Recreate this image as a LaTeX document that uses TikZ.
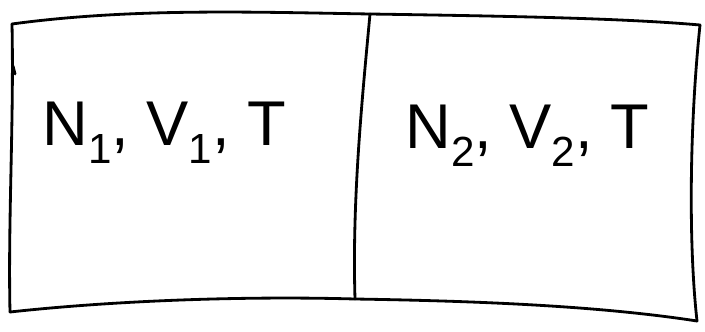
\documentclass[tikz,border=0pt]{standalone}
\usepackage{fontspec}
\setmainfont{Liberation Sans}
\newcommand{\mysub}[1]{\raisebox{-0.3em}{\fontsize{24}{24}\selectfont #1}}
\begin{document}
\begin{tikzpicture}[x=0.02cm,y=-0.02cm,
  hand/.style={line width=1.6pt,line cap=round,line join=round,black},
  label/.style={anchor=base west,inner sep=0pt,font=\fontsize{36}{36}\selectfont}]
\useasboundingbox (0,0) rectangle (705,331);
\coordinate (tl) at (12,24);
\coordinate (tm) at (370,14);
\coordinate (tr) at (700,25);
\coordinate (bl) at (10,312);
\coordinate (bm) at (355,299);
\coordinate (br) at (697,321);
% top edge
\draw[hand] (tl) .. controls (130,8) and (250,12) .. (tm) .. controls (500,16) and (620,18) .. (tr);
% bottom edge
\draw[hand] (bl) .. controls (120,300) and (250,296) .. (bm) .. controls (480,301) and (600,306) .. (br);
% left edge
\draw[hand] (tl) .. controls (14,120) and (8,220) .. (bl);
\draw[hand] (13,66) -- (15,74);
% right edge
\draw[hand] (tr) .. controls (690,120) and (688,240) .. (br);
% divider
\draw[hand] (tm) .. controls (362,100) and (352,200) .. (bm);
% labels
\node[label] (left) at (42,145) {N\mysub{1}, V\mysub{1}, T};
\node[label] (right) at (405,148) {N\mysub{2}, V\mysub{2}, T};
\end{tikzpicture}
\end{document}
